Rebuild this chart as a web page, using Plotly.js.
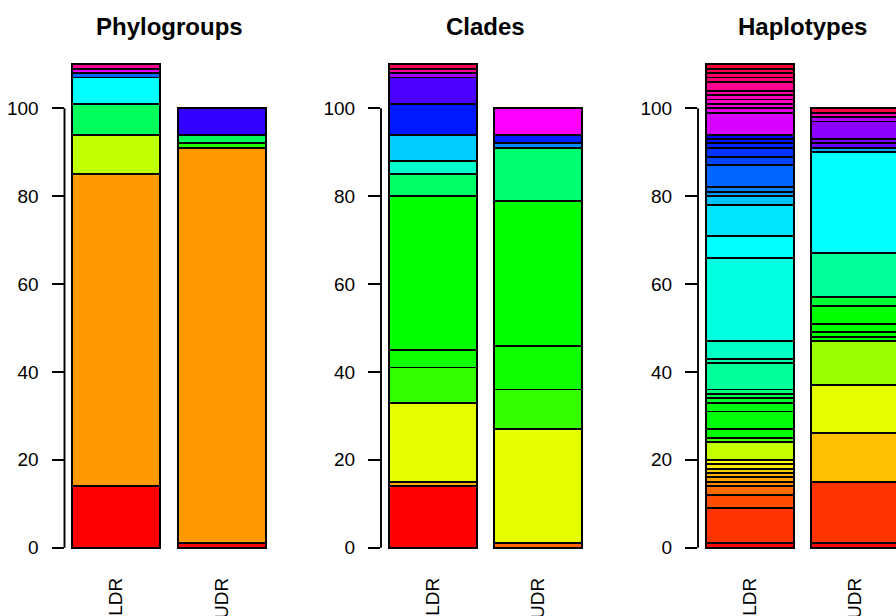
<!DOCTYPE html>
<html>
<head>
<meta charset="utf-8">
<script src="https://cdn.plot.ly/plotly-3.0.1.min.js"></script>
<style>
html,body{margin:0;padding:0;overflow:hidden;background:#fff;width:896px;height:616px;}
#chart{width:951px;height:616px;}
</style>
</head>
<body>
<div id="chart"></div>
<script>
// ---------- data ----------
var groups = ["LDR", "UDR"];
var panelTitles = ["Phylogroups", "Clades", "Haplotypes"];
var yTicks = [0, 20, 40, 60, 80, 100];

// Phylogroups (stacked from bottom)
var phyloLDR = [14, 71, 9, 7, 6, 1, 1, 1];
var phyloLDRColors = ["#FF0000", "#FF9900", "#BFFF00", "#00FF5A", "#00FFFF", "#0066FF", "#E000FF", "#FF0099"];
var phyloUDR = [1, 90, 1, 2, 6];
var phyloUDRColors = ["#FF0000", "#FF9900", "#22FF00", "#00FF5A", "#3300FF"];

// Clades
var cladeLDR = [14, 1, 18, 8, 4, 35, 5, 3, 6, 7, 6, 1, 1, 1];
var cladeLDRColors = ["#FF0000", "#FFAA00", "#E6FF00", "#33FF00", "#0DFF00", "#00FF00", "#00FF66", "#00FFCC", "#00CCFF", "#0019FF", "#4C00FF", "#AA00FF", "#FF0099", "#FF0055"];
var cladeUDR = [1, 26, 9, 10, 33, 12, 1, 2, 6];
var cladeUDRColors = ["#FF6600", "#E6FF00", "#33FF00", "#0DFF00", "#00FF00", "#00FF70", "#0088FF", "#0022FF", "#FF00FF"];

// Haplotypes
var haploLDR = [1, 8, 3, 2, 1, 1, 1, 1, 1, 1, 4, 1, 2, 4, 2, 1, 1, 1, 6, 1, 4, 19, 5, 7, 2, 1, 1, 5, 2, 2, 1, 1, 1, 5, 1, 1, 1, 1, 1, 2, 1, 1, 1, 1];
var haploLDRColors = ["#FF0000", "#FF3300", "#FF4D00", "#FF6A00", "#FF8800", "#FF9F00", "#FFB300", "#FFCC00", "#FFE600", "#FFFF00",
  "#C4FF00", "#44FF00", "#00FF00", "#00FF08", "#00FF11", "#00FF33", "#00FF55", "#00FF77", "#00FF99", "#00FFAA",
  "#00FFC4", "#00FFE0", "#00FFFF", "#00E5FF", "#00C4FF", "#0099FF", "#0080FF", "#0066FF", "#0044FF", "#0033FF",
  "#0022FF", "#0011FF", "#0000FF", "#D800FF", "#E600EE", "#FF00DD", "#FF00CC", "#FF00BB", "#FF00AA", "#FF0090",
  "#FF0077", "#FF0066", "#FF0050", "#FF0033"];
var haploUDR = [1, 14, 11, 11, 10, 1, 1, 2, 4, 2, 10, 23, 1, 1, 1, 4, 1, 1, 1];
var haploUDRColors = ["#FF0000", "#FF3300", "#FFC000", "#E5FF00", "#99FF00", "#00FF00", "#00FF00", "#00FF00", "#00FF00", "#00FF33",
  "#00FF99", "#00FFFF", "#00AAFF", "#6600FF", "#7700FF", "#8C00FF", "#B200FF", "#FF00B0", "#FF0044"];

// ---------- build ----------
var panels = [
  {ldr: phyloLDR, ldrC: phyloLDRColors, udr: phyloUDR, udrC: phyloUDRColors},
  {ldr: cladeLDR, ldrC: cladeLDRColors, udr: cladeUDR, udrC: cladeUDRColors},
  {ldr: haploLDR, ldrC: haploLDRColors, udr: haploUDR, udrC: haploUDRColors}
];

var W = 951, H = 616;
var mt = 44.6, mb = 48.6;
var panelLeft = [64.5, 381, 698];
var panelWidth = 209;
var lineW = 1.9;
var font = "Liberation Sans, Arial, Helvetica, sans-serif";

var traces = [];
panels.forEach(function (p, k) {
  var xa = k === 0 ? "x" : "x" + (k + 1);
  var ya = k === 0 ? "y" : "y" + (k + 1);
  function add(vals, cols, g) {
    vals.forEach(function (v, i) {
      traces.push({
        type: "bar", x: [g], y: [v], xaxis: xa, yaxis: ya,
        width: 0.8333,
        marker: {color: cols[i], line: {color: "#000", width: lineW}},
        hoverinfo: "y", showlegend: false
      });
    });
  }
  add(p.ldr, p.ldrC, groups[0]);
  add(p.udr, p.udrC, groups[1]);
});

var layout = {
  width: W, height: H,
  margin: {l: 0, r: 0, t: mt, b: mb, pad: 0},
  barmode: "stack",
  paper_bgcolor: "#fff", plot_bgcolor: "#fff",
  font: {family: font, color: "#000", size: 19},
  showlegend: false,
  annotations: [],
  shapes: []
};

var plotH = H - mt - mb;
for (var k = 0; k < 3; k++) {
  var sfx = k === 0 ? "" : String(k + 1);
  var d0 = panelLeft[k] / W, d1 = (panelLeft[k] + panelWidth) / W;
  layout["xaxis" + sfx] = {
    domain: [d0, d1], anchor: "y" + sfx,
    type: "category", categoryorder: "array", categoryarray: groups,
    range: [-0.4896, 1.4896],
    showgrid: false, zeroline: false, showline: false, ticks: "",
    tickangle: -90, ticklabelstandoff: 6,
    tickfont: {size: 19, family: font, color: "#000"},
    fixedrange: true
  };
  layout["yaxis" + sfx] = {
    domain: [0, 1], anchor: "x" + sfx,
    range: [-4.4, 114.4],
    tickvals: yTicks, ticktext: yTicks.map(String),
    ticks: "outside", ticklen: 12, tickwidth: lineW, tickcolor: "#000",
    ticklabelstandoff: 9,
    showgrid: false, zeroline: false, showline: false,
    tickfont: {size: 19, family: font, color: "#000"},
    fixedrange: true
  };
  layout.shapes.push({
    type: "line", xref: "x" + sfx + " domain", yref: "y" + sfx,
    x0: 0, x1: 0, y0: yTicks[0], y1: yTicks[yTicks.length - 1],
    line: {color: "#000", width: lineW}
  });
  layout.annotations.push({
    text: "<b>" + panelTitles[k] + "</b>",
    xref: "paper", yref: "paper",
    x: (panelLeft[k] + panelWidth / 2) / W,
    y: (H - mb - 26) / plotH,
    xanchor: "center", yanchor: "middle",
    showarrow: false,
    font: {size: 24, family: font, color: "#000"}
  });
}

Plotly.newPlot("chart", traces, layout, {displayModeBar: false, staticPlot: true});
</script>
</body>
</html>
